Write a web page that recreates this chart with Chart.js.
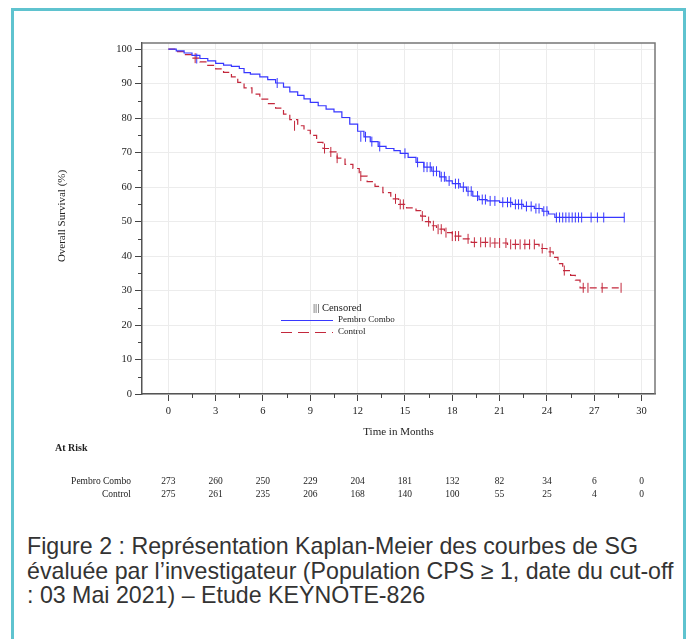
<!DOCTYPE html>
<html>
<head>
<meta charset="utf-8">
<script src="https://cdn.jsdelivr.net/npm/chart.js@4"></script>
<style>
  body { margin: 0; background: #fff; width: 688px; height: 639px; overflow: hidden; position: relative; }
  #frame { position: absolute; left: 11px; top: 8px; width: 675px; height: 700px; border: 3px solid #5fc3cf; box-sizing: border-box; }
  #wrap { position: absolute; left: 0; top: 0; width: 688px; height: 520px; }
  #caption { position: absolute; left: 27px; top: 534px; width: 660px; white-space: nowrap; font-family: "Liberation Sans", Arial, sans-serif; font-size: 23.2px; line-height: 24.5px; color: #333; }
</style>
</head>
<body>
<div id="frame"></div>
<div id="wrap"><canvas id="kmChart" width="688" height="520"></canvas></div>
<div id="caption">Figure 2 : Représentation Kaplan-Meier des courbes de SG<br>évaluée par l’investigateur (Population CPS ≥ 1, date du cut-off<br>: 03 Mai 2021) – Etude KEYNOTE-826</div>
<script>
// KM steps (months, % survival)
const pembroTime = [0, 0.5, 1.0, 1.5, 2.0, 2.5, 3.0, 3.5, 4.0, 4.5, 4.8, 5.2, 5.8, 6.3, 6.8, 7.3, 7.7, 8.2, 8.6, 9.0, 9.5, 10.0, 10.5, 11.0, 11.5, 12.0, 12.4, 12.8, 13.3, 13.8, 14.3, 14.7, 15.2, 15.7, 16.2, 16.7, 17.2, 17.6, 18.0, 18.5, 18.9, 19.3, 19.7, 20.2, 21.0, 21.8, 22.5, 23.2, 23.7, 24.1, 24.5, 28.9];
const pembroSurv = [100, 99.5, 98.9, 98.2, 97.3, 96.6, 95.9, 95.4, 95.0, 94.4, 93.2, 92.8, 92.0, 91.2, 90.2, 89.0, 87.6, 86.6, 85.6, 84.6, 83.6, 82.6, 81.8, 80.2, 78.3, 76.2, 74.6, 73.2, 71.8, 71.2, 70.6, 69.8, 68.6, 67.2, 65.8, 64.6, 63.0, 61.8, 61.0, 60.0, 58.8, 57.4, 56.4, 56.0, 55.6, 55.0, 54.4, 53.8, 53.0, 52.2, 51.2, 51.2];

const controlTime = [0, 0.5, 1.0, 1.5, 2.0, 2.5, 3.0, 3.5, 4.0, 4.4, 4.8, 5.3, 5.8, 6.3, 6.8, 7.3, 7.7, 8.2, 8.6, 9.0, 9.4, 9.8, 10.2, 10.7, 11.2, 11.7, 12.1, 12.6, 13.1, 13.6, 14.1, 14.6, 15.1, 15.7, 16.0, 16.3, 16.6, 17.0, 17.5, 18.0, 18.6, 19.2, 20.5, 21.5, 23.5, 24.0, 24.4, 24.7, 25.0, 25.5, 25.8, 26.1, 28.7];
const controlSurv = [100, 99.3, 98.4, 97.4, 96.3, 95.3, 94.3, 93.3, 92.0, 90.4, 88.8, 87.0, 85.5, 84.2, 82.9, 81.2, 79.6, 77.8, 76.5, 75.0, 73.0, 71.2, 70.2, 68.4, 66.6, 65.4, 63.2, 61.6, 60.2, 58.4, 56.6, 55.0, 54.0, 53.2, 51.6, 50.0, 48.8, 47.8, 46.8, 45.8, 45.0, 44.0, 43.8, 43.4, 42.2, 41.2, 39.6, 37.8, 35.8, 34.4, 33.0, 30.8, 30.8];

// censored observations
const pembroCensTime = [1.8, 6.9, 12.2, 12.5, 12.9, 13.4, 15.0, 15.8, 16.2, 16.4, 16.6, 16.8, 17.0, 17.3, 17.5, 17.8, 18.2, 18.4, 18.7, 19.0, 19.2, 19.6, 19.9, 20.1, 20.4, 20.7, 21.2, 21.5, 21.7, 22.0, 22.2, 22.4, 22.7, 23.0, 23.3, 23.5, 23.8, 24.0, 24.6, 24.8, 25.0, 25.2, 25.4, 25.6, 25.8, 26.0, 26.2, 26.8, 27.2, 27.6, 28.9];
const pembroCensSurv = [97.3, 90.2, 74.6, 74.6, 73.2, 71.8, 69.8, 67.2, 65.8, 65.8, 65.8, 64.6, 64.6, 63.0, 63.0, 61.8, 61.0, 61.0, 60.0, 58.8, 58.8, 57.4, 56.4, 56.4, 56.0, 56.0, 55.6, 55.6, 55.6, 55.0, 55.0, 55.0, 54.4, 54.4, 53.8, 53.8, 53.0, 53.0, 51.2, 51.2, 51.2, 51.2, 51.2, 51.2, 51.2, 51.2, 51.2, 51.2, 51.2, 51.2, 51.2];
const controlCensTime = [1.7, 8.0, 9.9, 10.3, 10.7, 12.2, 14.4, 14.7, 14.9, 16.1, 16.5, 16.8, 17.1, 17.3, 17.6, 18.0, 18.2, 18.4, 19.0, 19.4, 19.8, 20.1, 20.4, 20.7, 21.0, 21.4, 21.7, 22.0, 22.3, 22.6, 22.9, 23.2, 23.7, 24.2, 25.1, 26.3, 26.6, 27.5, 28.7];
const controlCensSurv = [97.4, 77.8, 71.2, 70.2, 68.4, 63.2, 56.6, 55.0, 55.0, 51.6, 50.0, 48.8, 47.8, 47.8, 46.8, 45.8, 45.8, 45.8, 45.0, 44.0, 44.0, 44.0, 44.0, 43.8, 43.8, 43.8, 43.4, 43.4, 43.4, 43.4, 43.4, 43.4, 42.2, 41.2, 35.8, 30.8, 30.8, 30.8, 30.8];

// axes and at-risk table
const xTicks = [0, 3, 6, 9, 12, 15, 18, 21, 24, 27, 30];
const xMinor = [1.5, 4.5, 7.5, 10.5, 13.5, 16.5, 19.5, 22.5, 25.5, 28.5];
const yTicks = [0, 10, 20, 30, 40, 50, 60, 70, 80, 90, 100];
const yMinor = [5, 15, 25, 35, 45, 55, 65, 75, 85, 95];
const atRiskPembro = [273, 260, 250, 229, 204, 181, 132, 82, 34, 6, 0];
const atRiskControl = [275, 261, 235, 206, 168, 140, 100, 55, 25, 4, 0];

const blue = 'rgb(55, 55, 255)';
const red = 'rgb(195, 40, 60)';
const serif = '"Liberation Serif", "Times New Roman", serif';

const toPts = (xs, ys) => xs.map((v, i) => ({ x: v, y: ys[i] }));

const extras = {
  id: 'extras',
  afterDraw(chart) {
    const { ctx, chartArea: a, scales: { x, y } } = chart;
    ctx.save();
    // top / right frame
    ctx.strokeStyle = '#777';
    ctx.lineWidth = 1.5;
    ctx.beginPath();
    ctx.moveTo(a.left, a.top);
    ctx.lineTo(a.right, a.top);
    ctx.lineTo(a.right, a.bottom);
    ctx.stroke();

    // minor ticks
    ctx.strokeStyle = '#444';
    ctx.lineWidth = 1;
    ctx.beginPath();
    yMinor.forEach(v => {
      const py = Math.round(y.getPixelForValue(v)) + 0.5;
      ctx.moveTo(a.left - 4, py); ctx.lineTo(a.left, py);
    });
    xMinor.forEach(v => {
      const px = Math.round(x.getPixelForValue(v)) + 0.5;
      ctx.moveTo(px, a.bottom); ctx.lineTo(px, a.bottom + 4);
    });
    ctx.stroke();

    // axis titles
    ctx.fillStyle = '#222';
    ctx.font = '11px ' + serif;
    ctx.textAlign = 'center';
    ctx.textBaseline = 'middle';
    ctx.fillText('Time in Months', (a.left + a.right) / 2, 432);
    ctx.save();
    ctx.translate(62, 216);
    ctx.rotate(-Math.PI / 2);
    ctx.fillText('Overall Survival (%)', 0, 0);
    ctx.restore();

    // legend inside plot
    ctx.font = '10.5px ' + serif;
    ctx.textAlign = 'left';
    ctx.fillText('||| Censored', 313, 308);
    ctx.font = '9px ' + serif;
    ctx.fillText('Pembro Combo', 338, 320);
    ctx.fillText('Control', 338, 332);
    ctx.lineWidth = 1.2;
    ctx.strokeStyle = blue;
    ctx.beginPath(); ctx.moveTo(281, 320.5); ctx.lineTo(333, 320.5); ctx.stroke();
    ctx.strokeStyle = red;
    ctx.setLineDash([11, 6]);
    ctx.beginPath(); ctx.moveTo(281, 332.5); ctx.lineTo(333, 332.5); ctx.stroke();
    ctx.setLineDash([]);

    // at-risk table
    ctx.fillStyle = '#222';
    ctx.font = 'bold 10px ' + serif;
    ctx.fillText('At Risk', 55, 448);
    ctx.font = '9.5px ' + serif;
    ctx.textAlign = 'right';
    ctx.fillText('Pembro Combo', 131, 481);
    ctx.fillText('Control', 131, 494);
    ctx.textAlign = 'center';
    xTicks.forEach((t, i) => {
      const px = x.getPixelForValue(t);
      ctx.fillText(String(atRiskPembro[i]), px, 481);
      ctx.fillText(String(atRiskControl[i]), px, 494);
    });
    ctx.restore();
  }
};

new Chart(document.getElementById('kmChart').getContext('2d'), {
  type: 'line',
  data: {
    datasets: [
      {
        label: 'Pembro Combo',
        data: toPts(pembroTime, pembroSurv),
        borderColor: blue,
        borderWidth: 1.2,
        stepped: true,
        pointRadius: 0,
        fill: false
      },
      {
        label: 'Control',
        data: toPts(controlTime, controlSurv),
        borderColor: red,
        borderWidth: 1.2,
        borderDash: [7, 4],
        stepped: true,
        pointRadius: 0,
        fill: false
      },
      {
        label: 'Pembro censored',
        data: toPts(pembroCensTime, pembroCensSurv),
        showLine: false,
        pointStyle: 'line',
        rotation: 90,
        pointRadius: 5,
        borderColor: blue,
        borderWidth: 1
      },
      {
        label: 'Control censored',
        data: toPts(controlCensTime, controlCensSurv),
        showLine: false,
        pointStyle: 'line',
        rotation: 90,
        pointRadius: 5,
        borderColor: red,
        borderWidth: 1
      }
    ]
  },
  options: {
    responsive: false,
    animation: false,
    layout: { padding: { top: 43, left: 102, right: 33, bottom: 96 } },
    plugins: { legend: { display: false }, tooltip: { enabled: false } },
    scales: {
      x: {
        type: 'linear',
        min: -1.67,
        max: 30.85,
        afterFit: s => { s.height = 30; },
        afterBuildTicks: s => { s.ticks = xTicks.map(v => ({ value: v })); },
        grid: { color: '#ececec', tickColor: '#444', tickLength: 7 },
        border: { color: '#555', width: 1.5 },
        ticks: { font: { family: serif, size: 10.5 }, color: '#222', padding: 4, maxRotation: 0 }
      },
      y: {
        min: 0,
        max: 101.8,
        afterFit: s => { s.width = 40; },
        afterBuildTicks: s => { s.ticks = yTicks.map(v => ({ value: v })); },
        grid: { color: '#ececec', tickColor: '#444', tickLength: 7 },
        border: { color: '#555', width: 1.5 },
        ticks: { font: { family: serif, size: 10.5 }, color: '#222', padding: 3 }
      }
    }
  },
  plugins: [extras]
});
</script>
</body>
</html>
